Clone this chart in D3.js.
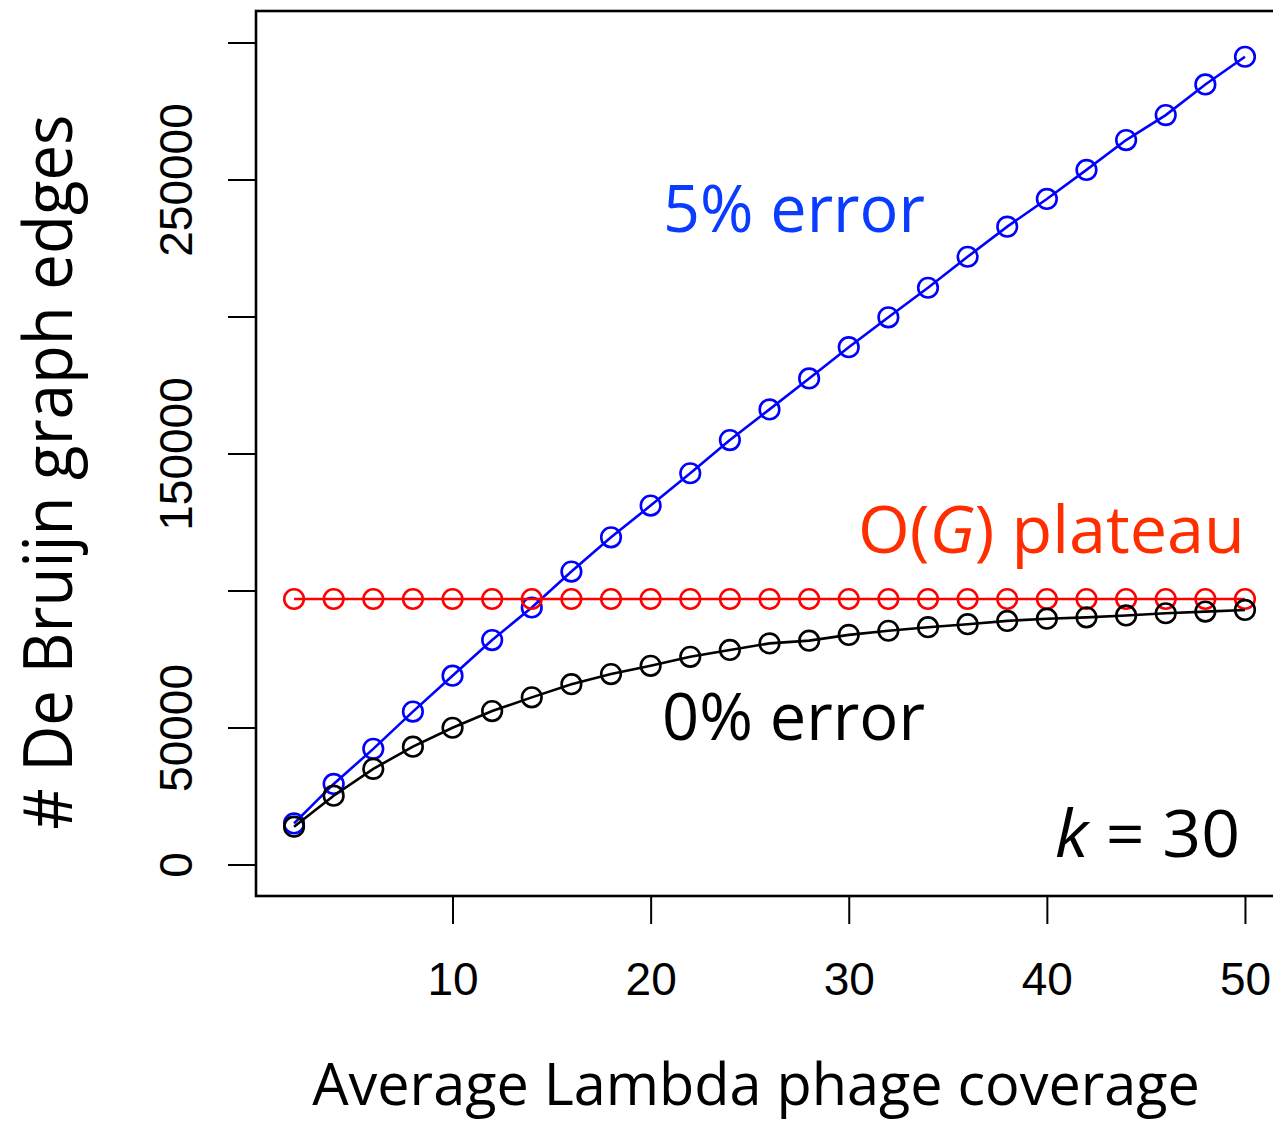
<!DOCTYPE html>
<html>
<head>
<meta charset="utf-8">
<script src="https://cdn.jsdelivr.net/npm/d3@7"></script>
<style>
  html, body { margin: 0; padding: 0; background: #fff; }
  svg { display: block; }
</style>
</head>
<body>
<svg id="chart" width="1273" height="1121"></svg>
<script>
// Average Lambda phage coverage (x) and de Bruijn graph edge counts, k = 30
const coverage = [2, 4, 6, 8, 10, 12, 14, 16, 18, 20, 22, 24, 26, 28, 30, 32, 34, 36, 38, 40, 42, 44, 46, 48, 50];

const edges5pct = [15000, 29400, 42200, 55800, 68900, 81900, 93800, 106900, 119400, 131000,
                   142800, 154900, 166100, 177400, 188800, 199700, 210500, 221800, 232800, 242900,
                   253500, 264400, 273500, 284700, 294800];

const edges0pct = [13800, 25100, 34900, 43000, 49900, 56000, 61000, 65800, 69500, 72500,
                   75800, 78300, 80700, 81700, 83800, 85300, 86600, 87700, 88900, 89700,
                   90200, 90900, 91700, 92300, 92900];

const plateau = coverage.map(() => 96900);

const yTicks = [0, 50000, 100000, 150000, 200000, 250000, 300000];
const yTickLabels = ["0", "50000", "", "150000", "", "250000", ""];
const xTicks = [10, 20, 30, 40, 50];

const series = [
  { name: "5% error", values: edges5pct, color: "#0000ff" },
  { name: "O(G) plateau", values: plateau, color: "#ff0000" },
  { name: "0% error", values: edges0pct, color: "#000000" }
];

const svg = d3.select("#chart");
const plot = { left: 256, right: 1283, top: 11, bottom: 896 };

const x = d3.scaleLinear().domain([0.08, 51.92]).range([plot.left, plot.right]);
const y = d3.scaleLinear().domain([-11500, 311500]).range([plot.bottom, plot.top]);

// series: line through the points, open circles on top
const line = d3.line().x((d, i) => x(coverage[i])).y(d => y(d));
series.forEach(s => {
  const g = svg.append("g");
  g.append("path")
    .datum(s.values)
    .attr("d", line)
    .attr("fill", "none")
    .attr("stroke", s.color)
    .attr("stroke-width", 2.6);
  g.selectAll("circle")
    .data(s.values)
    .join("circle")
    .attr("cx", (d, i) => x(coverage[i]))
    .attr("cy", d => y(d))
    .attr("r", 9.8)
    .attr("fill", "none")
    .attr("stroke", s.color)
    .attr("stroke-width", 2.6);
});

// frame
svg.append("rect")
  .attr("x", plot.left).attr("y", plot.top)
  .attr("width", plot.right - plot.left).attr("height", plot.bottom - plot.top)
  .attr("fill", "none").attr("stroke", "#000").attr("stroke-width", 2.6);

// x axis
const xAxis = svg.append("g")
  .attr("transform", `translate(0,${plot.bottom})`)
  .call(d3.axisBottom(x).tickValues(xTicks).tickSize(28).tickPadding(0).tickFormat(d3.format("d")));
xAxis.select(".domain").remove();
xAxis.selectAll("line").attr("stroke", "#000").attr("stroke-width", 2);
xAxis.selectAll("text")
  .attr("y", 99).attr("dy", 0)
  .attr("fill", "#000")
  .style("font-family", "'Liberation Sans', Arial, sans-serif")
  .style("font-size", "46px");

// y axis
const yAxis = svg.append("g")
  .attr("transform", `translate(${plot.left},0)`)
  .call(d3.axisLeft(y).tickValues(yTicks).tickSize(28)
    .tickFormat((d, i) => yTickLabels[i]));
yAxis.select(".domain").remove();
yAxis.selectAll("line").attr("stroke", "#000").attr("stroke-width", 2);
yAxis.selectAll("text")
  .attr("x", null).attr("dy", 0)
  .attr("transform", "translate(-64,0) rotate(-90)")
  .attr("text-anchor", "middle")
  .attr("fill", "#000")
  .style("font-family", "'Liberation Sans', Arial, sans-serif")
  .style("font-size", "46px");

// text fitted to a given width, optionally rotated
function fittedText(parts, opts) {
  const g = svg.append("g");
  const t = g.append("text")
    .attr("x", 0).attr("y", 0)
    .attr("text-anchor", opts.anchor || "start")
    .attr("fill", opts.color || "#000")
    .style("font-family", "'Open Sans', 'Noto Sans', sans-serif")
    .style("font-size", opts.size + "px");
  parts.forEach(p => {
    t.append("tspan").text(p.text).style("font-style", p.italic ? "italic" : "normal");
  });
  const w = t.node().getBBox().width;
  const k = opts.width / w;
  const rot = opts.rotate ? ` rotate(${opts.rotate})` : "";
  g.attr("transform", `translate(${opts.x},${opts.y})${rot} scale(${k},1)`);
  return g;
}

// axis titles
fittedText([{ text: "# De Bruijn graph edges" }],
  { x: 72, y: 472, size: 68, width: 715, anchor: "middle", rotate: -90 });
fittedText([{ text: "Average Lambda phage coverage" }],
  { x: 756, y: 1105, size: 59, width: 888, anchor: "middle" });

// annotations
fittedText([{ text: "5% error" }],
  { x: 663, y: 232, size: 66, width: 262, color: "#0a3cff" });
fittedText([{ text: "O(" }, { text: "G", italic: true }, { text: ") plateau" }],
  { x: 858, y: 553, size: 66, width: 387, color: "#ff2e00" });
fittedText([{ text: "0% error" }],
  { x: 662, y: 740, size: 66, width: 263, color: "#000" });
fittedText([{ text: "k", italic: true }, { text: " = 30" }],
  { x: 1055, y: 857, size: 66, width: 185, color: "#000" });
</script>
</body>
</html>
